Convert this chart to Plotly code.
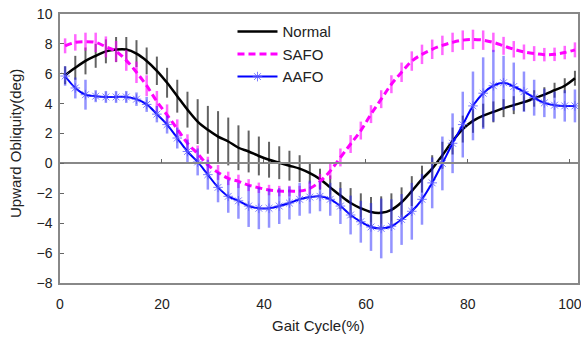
import plotly.graph_objects as go

# Gait cycle sample positions (%)
gait = list(range(1, 102, 2))

normal = [5.9, 6.4, 6.86, 7.2, 7.5, 7.62, 7.62, 7.35, 6.86, 6.2,
          5.4, 4.5, 3.6, 2.8, 2.25, 1.8, 1.47, 1.05, 0.8, 0.5,
          0.25, 0.05, -0.15, -0.35, -0.65, -1.05, -1.6, -2.15, -2.65, -3.0,
          -3.25, -3.3, -3.1, -2.6, -1.85, -1.05, -0.35, 0.55, 1.5, 2.3,
          2.85, 3.2, 3.45, 3.7, 3.9, 4.1, 4.35, 4.6, 4.9, 5.2, 5.7]
normal_sd = [0.6, 0.8, 0.9, 0.8, 0.8, 0.84, 0.84, 0.9, 0.9, 0.95,
             1.0, 1.1, 1.2, 1.5, 1.6, 1.7, 1.6, 1.5, 1.4, 1.3,
             1.2, 1.1, 1.0, 0.9, 0.7, 0.7, 0.8, 0.9, 1.0, 1.0,
             1.0, 1.1, 1.1, 1.0, 1.0, 0.9, 0.9, 0.9, 0.9, 0.9,
             0.8, 0.8, 0.7, 0.6, 0.6, 0.6, 0.55, 0.5, 0.5, 0.5, 0.5]

safo = [7.87, 8.1, 8.15, 8.1, 7.8, 7.5, 6.9, 6.1, 5.2, 4.15,
        3.25, 2.3, 1.35, 0.65, -0.1, -0.6, -1.0, -1.2, -1.45, -1.63,
        -1.78, -1.85, -1.85, -1.85, -1.67, -1.2, -0.5, 0.4, 1.3, 2.2,
        3.3, 4.3, 5.3, 6.1, 6.85, 7.3, 7.64, 7.9, 8.1, 8.25,
        8.3, 8.25, 8.1, 7.87, 7.64, 7.46, 7.35, 7.28, 7.3, 7.42, 7.6]
safo_sd = [0.5, 0.55, 0.6, 0.65, 0.7, 0.7, 0.7, 0.72, 0.7, 0.7,
           0.7, 0.65, 0.6, 0.55, 0.55, 0.5, 0.45, 0.45, 0.4, 0.35,
           0.35, 0.35, 0.35, 0.35, 0.4, 0.5, 0.55, 0.6, 0.6, 0.6,
           0.6, 0.6, 0.6, 0.65, 0.65, 0.65, 0.65, 0.65, 0.65, 0.65,
           0.65, 0.65, 0.65, 0.6, 0.55, 0.5, 0.5, 0.45, 0.45, 0.45, 0.5]

aafo = [5.85, 5.05, 4.6, 4.5, 4.45, 4.45, 4.45, 4.3, 3.95, 3.3,
        2.6, 1.7, 0.8, 0.1, -0.75, -1.6, -2.2, -2.5, -2.85, -3.0,
        -3.0, -2.85, -2.65, -2.4, -2.25, -2.2, -2.4, -2.85, -3.45, -3.9,
        -4.25, -4.35, -4.2, -3.75, -3.2, -2.4, -1.3, 0.0, 1.35, 2.6,
        3.85, 4.7, 5.2, 5.4, 5.15, 4.8, 4.4, 4.05, 3.9, 3.85, 3.85]
aafo_sd = [0.65, 0.7, 1.0, 0.4, 0.4, 0.4, 0.4, 0.45, 0.5, 0.55,
           0.6, 0.7, 0.8, 0.9, 1.0, 1.0, 1.1, 1.2, 1.4, 1.4,
           1.3, 1.2, 1.1, 1.1, 1.1, 1.0, 1.1, 1.2, 1.3, 1.4,
           1.6, 2.0, 1.8, 1.7, 1.9, 1.7, 1.7, 1.8, 2.0, 2.2,
           2.3, 2.4, 2.4, 1.8, 1.6, 1.35, 1.2, 0.95, 0.9, 1.05, 1.1]

x_ticks = [0, 20, 40, 60, 80, 100]
y_ticks = [-8, -6, -4, -2, 0, 2, 4, 6, 8, 10]

FONT = "Liberation Sans, Arial, sans-serif"
TXT = "#222"

fig = go.Figure()

fig.add_trace(go.Scatter(
    x=gait, y=normal, name="Normal", mode="lines",
    line=dict(color="black", width=2.5, shape="spline"),
    error_y=dict(type="data", array=normal_sd, visible=True,
                 color="rgba(70,70,70,0.85)", thickness=2, width=0),
))
fig.add_trace(go.Scatter(
    x=gait, y=safo, name="SAFO", mode="lines",
    line=dict(color="#FF00FF", width=3, dash="7px,4px", shape="spline"),
    error_y=dict(type="data", array=safo_sd, visible=True,
                 color="rgba(255,0,255,0.6)", thickness=2.5, width=0),
))
fig.add_trace(go.Scatter(
    x=gait, y=aafo, name="AAFO", mode="lines+markers",
    line=dict(color="#0000FF", width=2, shape="spline"),
    marker=dict(symbol="asterisk-open", size=8, color="rgba(90,90,255,0.8)",
                line=dict(width=1, color="rgba(90,90,255,0.8)")),
    error_y=dict(type="data", array=aafo_sd, visible=True,
                 color="rgba(40,40,255,0.5)", thickness=2.5, width=0),
))

# invisible trace to activate xaxis2 (the axis drawn along y = 0)
fig.add_trace(go.Scatter(x=[None], y=[None], xaxis="x2", showlegend=False, hoverinfo="skip"))

fig.update_layout(
    width=581, height=338,
    margin=dict(l=60, r=3, t=14, b=55),
    paper_bgcolor="white", plot_bgcolor="white",
    font=dict(family=FONT, size=14, color=TXT),
    showlegend=True,
    legend=dict(x=0.333, y=0.995, xanchor="left", yanchor="top",
                bgcolor="rgba(0,0,0,0)", font=dict(size=15, color=TXT),
                tracegroupgap=0, itemwidth=40),
    xaxis=dict(range=[0, 101.6], tickvals=x_ticks, ticks="", showgrid=False,
               zeroline=False, showline=True, linecolor="#888", linewidth=1.5,
               mirror=True, tickfont=dict(size=14, color=TXT),
               ticklabelstandoff=7, ticklabeloverflow="allow", automargin=False),
    xaxis2=dict(range=[0, 101.6], tickvals=x_ticks, overlaying="x", anchor="free",
                position=8/18, showline=True, linecolor="#888", linewidth=1.5,
                ticks="inside", ticklen=4, tickcolor="#666", showticklabels=False,
                showgrid=False, zeroline=False, automargin=False),
    yaxis=dict(range=[-8, 10], tickvals=y_ticks, ticks="inside", ticklen=4,
               tickcolor="#666", showgrid=False, zeroline=False, showline=True,
               linecolor="#888", linewidth=1.5, mirror=True,
               tickfont=dict(size=14, color=TXT), ticklabelstandoff=3,
               automargin=False),
    annotations=[
        dict(text="Upward Obliquity(deg)", xref="paper", yref="paper",
             x=(15 - 60) / 518, y=(283 - 144) / 269, textangle=-90,
             showarrow=False, font=dict(size=15, color=TXT),
             xanchor="center", yanchor="middle"),
        dict(text="Gait Cycle(%)", xref="paper", yref="paper",
             x=(318 - 60) / 518, y=(283 - 325) / 269,
             showarrow=False, font=dict(size=15, color=TXT),
             xanchor="center", yanchor="middle"),
    ],
)

fig.write_html("out.html", config={"displayModeBar": False},
               post_script="document.body.style.margin='0';document.body.style.overflow='hidden';")
